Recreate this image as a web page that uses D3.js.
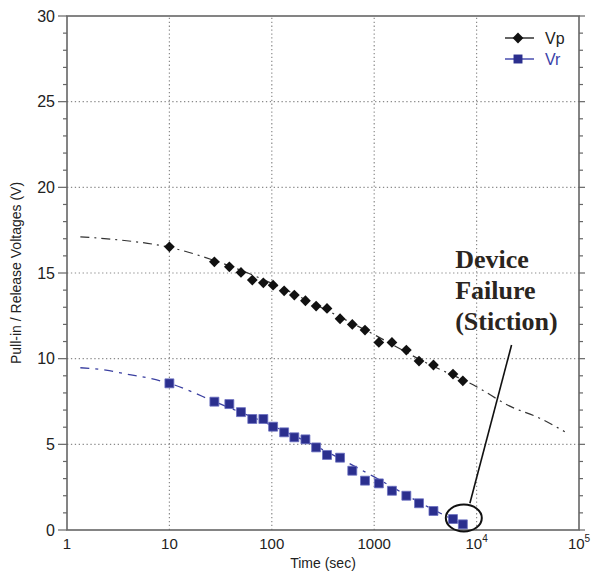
<!DOCTYPE html>
<html>
<head>
<meta charset="utf-8">
<script src="https://cdn.jsdelivr.net/npm/d3@7"></script>
<style>
  body { margin: 0; background: #fff; }
  svg { display: block; font-family: Arial, "Liberation Sans", sans-serif; }
</style>
</head>
<body>
<svg id="chart" width="592" height="581"></svg>
<script>
// measured data (time in sec, voltage in V)
const times = [10, 27.5, 38.5, 50, 64.5, 82.7, 103, 132, 166, 213, 271, 346, 464, 611, 813, 1110, 1490, 2060, 2740, 3790, 5880, 7340];
const vp = [16.53, 15.65, 15.36, 15.03, 14.59, 14.43, 14.29, 13.96, 13.71, 13.38, 13.07, 12.93, 12.33, 12.0, 11.67, 10.95, 10.95, 10.5, 9.86, 9.63, 9.1, 8.71];
const vr = [8.56, 7.49, 7.35, 6.88, 6.48, 6.48, 6.03, 5.7, 5.41, 5.29, 4.82, 4.38, 4.22, 3.46, 2.88, 2.72, 2.29, 2.0, 1.56, 1.11, 0.64, 0.33];

// fit curves
const vpFitT = [1.35, 3, 10, 30, 100, 300, 1000, 3000, 10000, 21100, 41500, 72600];
const vpFitV = [17.11, 16.95, 16.5, 15.65, 14.4, 13.0, 11.4, 9.85, 8.36, 7.23, 6.52, 5.74];
const vrFitT = [1.35, 2.4, 3.8, 6.5, 10, 30, 100, 300, 1000, 3000, 7340];
const vrFitV = [9.47, 9.33, 9.1, 8.85, 8.56, 7.4, 6.1, 4.75, 3.1, 1.5, 0.33];

const xTicks = [1, 10, 100, 1000, 1e4, 1e5];
const yTicks = [0, 5, 10, 15, 20, 25, 30];
const seriesNames = ["Vp", "Vr"];
const noteLines = ["Device", "Failure", "(Stiction)"];

const svg = d3.select("#chart"),
      margin = { top: 16, right: 13, bottom: 51, left: 67 },
      width = +svg.attr("width"),
      height = +svg.attr("height");

const x = d3.scaleLog().domain([1, 1e5]).range([margin.left, width - margin.right]);
const y = d3.scaleLinear().domain([0, 30]).range([height - margin.bottom, margin.top]);

const blue = "#2b2f8e";
const frame = "#666";

// grid
const grid = svg.append("g").attr("stroke", "#8a8a8a").attr("stroke-width", 1.2).attr("stroke-dasharray", "1.3,2.6");
grid.selectAll(".gx").data(xTicks.slice(1, -1)).enter().append("line")
    .attr("x1", d => x(d)).attr("x2", d => x(d))
    .attr("y1", y(0)).attr("y2", y(30));
grid.selectAll(".gy").data(yTicks.slice(1, -1)).enter().append("line")
    .attr("x1", x(1)).attr("x2", x(1e5))
    .attr("y1", d => y(d)).attr("y2", d => y(d));

// minor ticks every 1 V on left and right
const minor = d3.range(0, 31);
svg.append("g").attr("stroke", frame).attr("stroke-width", 1.2)
    .selectAll("line").data(minor).enter().append("line")
    .attr("x1", d => x(1) - (d % 5 === 0 ? 9 : 4)).attr("x2", x(1))
    .attr("y1", d => y(d)).attr("y2", d => y(d));
svg.append("g").attr("stroke", frame).attr("stroke-width", 1.2)
    .selectAll("line").data(minor).enter().append("line")
    .attr("x1", x(1e5)).attr("x2", d => x(1e5) + (d % 5 === 0 ? 6 : 4))
    .attr("y1", d => y(d)).attr("y2", d => y(d));

// frame
svg.append("rect")
    .attr("x", x(1)).attr("y", y(30))
    .attr("width", x(1e5) - x(1)).attr("height", y(0) - y(30))
    .attr("fill", "none").attr("stroke", frame).attr("stroke-width", 1.6);

// y tick labels
svg.append("g").selectAll("text").data(yTicks).enter().append("text")
    .attr("x", x(1) - 12).attr("y", d => y(d) + 5.5)
    .attr("text-anchor", "end").attr("font-size", 16).attr("fill", "#222")
    .text(d => d);

// x tick labels
const xl = svg.append("g").selectAll("text").data(xTicks).enter().append("text")
    .attr("x", d => x(d)).attr("y", y(0) + 19)
    .attr("text-anchor", "middle").attr("font-size", 15).attr("fill", "#222");
xl.each(function (d) {
    const t = d3.select(this);
    if (d < 1e4) { t.text(d); return; }
    t.append("tspan").text("10");
    t.append("tspan").attr("dy", -7).attr("font-size", 10).text(Math.round(Math.log10(d)));
});

// axis titles
svg.append("text")
    .attr("x", (x(1) + x(1e5)) / 2).attr("y", height - 13)
    .attr("text-anchor", "middle").attr("font-size", 14).attr("fill", "#222")
    .text("Time (sec)");
svg.append("text")
    .attr("transform", `translate(21,${(y(0) + y(30)) / 2}) rotate(-90)`)
    .attr("text-anchor", "middle").attr("font-size", 14).attr("fill", "#222")
    .text("Pull-in / Release Voltages (V)");

// fit lines
const line = d3.line().x(d => x(d[0])).y(d => y(d[1])).curve(d3.curveMonotoneX);
svg.append("path")
    .datum(vpFitT.map((t, i) => [t, vpFitV[i]]))
    .attr("fill", "none").attr("stroke", "#333").attr("stroke-width", 1.2)
    .attr("stroke-dasharray", "9,5,2,5")
    .attr("d", line);
svg.append("path")
    .datum(vrFitT.map((t, i) => [t, vrFitV[i]]))
    .attr("fill", "none").attr("stroke", "#3a3fa0").attr("stroke-width", 1.3)
    .attr("stroke-dasharray", "9,6,3,6")
    .attr("d", line);

// markers
const diamond = d3.symbol().type(d3.symbolSquare).size(58);
const square = d3.symbol().type(d3.symbolSquare).size(80);

svg.append("g").selectAll("path").data(times).enter().append("path")
    .attr("d", diamond)
    .attr("transform", (d, i) => `translate(${x(d)},${y(vp[i])}) rotate(45)`)
    .attr("fill", "#111");

svg.append("g").selectAll("path").data(times).enter().append("path")
    .attr("d", square)
    .attr("transform", (d, i) => `translate(${x(d)},${y(vr[i])})`)
    .attr("fill", blue).attr("stroke", "#6a6fc0").attr("stroke-width", 0.8);

// legend
const legend = svg.append("g");
seriesNames.forEach((name, i) => {
    const ly = 38 + i * 21;
    const col = i === 0 ? "#111" : blue;
    legend.append("line").attr("x1", 505).attr("x2", 534).attr("y1", ly).attr("y2", ly)
        .attr("stroke", i === 0 ? "#333" : "#4a4fb0").attr("stroke-width", 1.3)
        .attr("stroke-dasharray", "10,4,20");
    legend.append("path")
        .attr("d", i === 0 ? diamond : square)
        .attr("transform", `translate(518,${ly})` + (i === 0 ? " rotate(45)" : ""))
        .attr("fill", col);
    legend.append("text").attr("x", 545).attr("y", ly + 6)
        .attr("font-size", 16).attr("fill", i === 0 ? "#222" : "#3a3fa8")
        .text(name);
});

// annotation
const failT = 7500, failV = 0.7;
svg.append("ellipse")
    .attr("cx", x(failT)).attr("cy", y(failV))
    .attr("rx", 18).attr("ry", 13.5)
    .attr("fill", "none").attr("stroke", "#111").attr("stroke-width", 2);
svg.append("line")
    .attr("x1", x(21950)).attr("y1", y(10.8))
    .attr("x2", x(8600)).attr("y2", y(1.56))
    .attr("stroke", "#111").attr("stroke-width", 1.6);
svg.append("g").selectAll("text").data(noteLines).enter().append("text")
    .attr("x", x(6170)).attr("y", (d, i) => 268 + i * 31)
    .attr("font-family", "'Liberation Serif', 'Times New Roman', serif")
    .attr("font-weight", "bold").attr("font-size", 26).attr("fill", "#2a2520")
    .text(d => d);
</script>
</body>
</html>
